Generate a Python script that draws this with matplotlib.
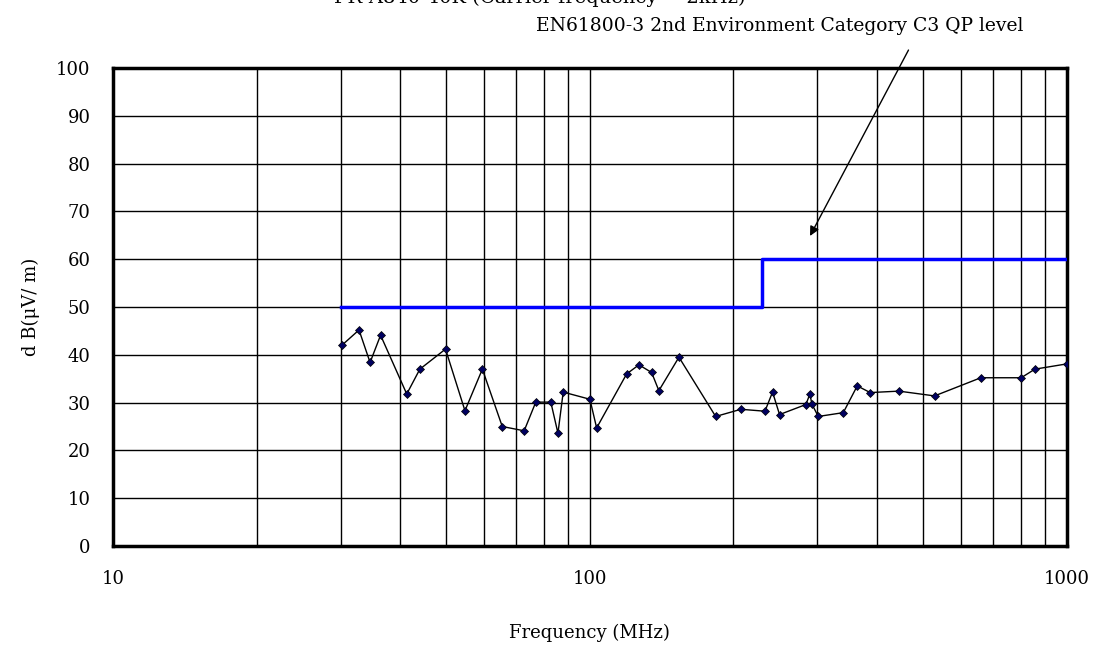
import numpy as np
import matplotlib.pyplot as plt
from matplotlib.ticker import FixedLocator, NullFormatter

plt.rcParams['font.family'] = ['DejaVu Serif']

# measured emission (MHz, dBuV/m)
freq = [30.2, 32.8, 34.6, 36.4, 41.3, 44.0, 49.8, 54.7, 59.5, 65.5,
        72.8, 77.0, 82.8, 85.7, 87.9, 100, 103.3, 119.4, 126.7, 134.7,
        139.5, 153.7, 183.5, 207.3, 232.8, 241.5, 249.8, 283.7, 289.2, 292,
        301.1, 339.8, 363.5, 386.9, 444.5, 527.9, 660, 802, 857, 1000]
level = [42.0, 45.2, 38.4, 44.1, 31.8, 37.0, 41.2, 28.3, 37.0, 25.0,
         24.1, 30.1, 30.1, 23.6, 32.2, 30.7, 24.7, 36.0, 37.9, 36.3,
         32.5, 39.5, 27.1, 28.6, 28.2, 32.2, 27.5, 29.6, 31.8, 29.7,
         27.1, 27.9, 33.5, 32.1, 32.4, 31.4, 35.2, 35.2, 37.0, 38.1]

# EN61800-3 C3 QP limit
lim_f = [30, 230, 230, 1000]
lim_v = [50, 50, 60, 60]

fig = plt.figure(figsize=(11.01, 6.46), dpi=100)
ax = fig.add_axes([0.1026, 0.1548, 0.8664, 0.7399])

ax.plot(lim_f, lim_v, color='#0000ff', lw=2.5, zorder=3)
ax.plot(freq, level, color='black', lw=1, marker='D', ms=4.5,
        mfc='#000060', mec='black', mew=0.5, zorder=4)

ax.set_xscale('log')
ax.set_xlim(10, 1000)
ax.set_ylim(0, 100)
ax.set_yticks(np.arange(0, 101, 10))
ax.xaxis.set_major_locator(FixedLocator([10, 100, 1000]))
ax.set_xticklabels(['10', '100', '1000'])
minors = [m * d for d in (10, 100) for m in range(2, 10)]
ax.xaxis.set_minor_locator(FixedLocator(minors))
ax.xaxis.set_minor_formatter(NullFormatter())
ax.grid(which='both', axis='x', color='black', lw=1)
ax.grid(which='major', axis='y', color='black', lw=1)
ax.tick_params(which='both', length=0, labelsize=13)
ax.tick_params(axis='x', pad=17)
ax.tick_params(axis='y', pad=16)
for s in ax.spines.values():
    s.set_linewidth(2.5)

ax.set_xlabel('Frequency (MHz)', fontsize=13, labelpad=26)
ax.set_ylabel('d B(μV/ m)', fontsize=13, labelpad=12)

fig.text(0.49, 1.003, 'FR-A840-40K (Carrier frequency = 2kHz)', ha='center',
         va='center', fontsize=14)
ax.annotate('EN61800-3 2nd Environment Category C3 QP level',
            xy=(810 / 1101, 1 - 236 / 646), xycoords='figure fraction',
            xytext=(780 / 1101, 1 - 26 / 646), textcoords='figure fraction',
            ha='center', va='center', fontsize=13.5,
            arrowprops=dict(arrowstyle='-|>', color='black', lw=1,
                            shrinkA=10, shrinkB=0, mutation_scale=14,
                            relpos=(0.78, 0.0)))

fig.savefig('out.png', dpi=100)
